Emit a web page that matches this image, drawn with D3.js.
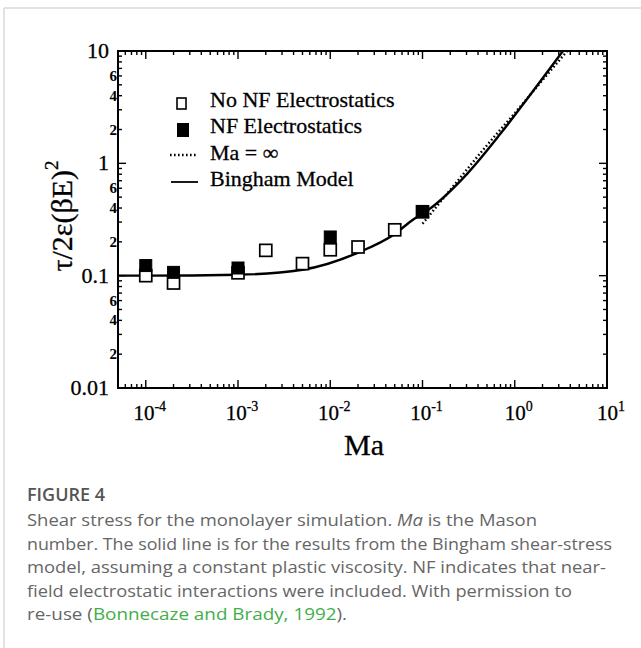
<!DOCTYPE html>
<html>
<head>
<meta charset="utf-8">
<script src="https://cdn.jsdelivr.net/npm/d3@7"></script>
<style>
  body { margin: 0; background: #fff; }
  svg { display: block; }
</style>
</head>
<body>
<svg id="chart" width="641" height="648"></svg>
<script>
// values (Ma, tau/2e(bE)^2)
var maOpen = [1e-4, 2e-4, 1e-3, 2e-3, 5e-3, 1e-2, 2e-2, 5e-2, 1e-1]
var tauOpen = [0.100, 0.086, 0.106, 0.168, 0.128, 0.170, 0.180, 0.256, 0.37]
var maFilled = [1e-4, 2e-4, 1e-3, 1e-2, 1e-1]
var tauFilled = [0.123, 0.107, 0.117, 0.221, 0.373]
var maBingham = [5e-5, 1e-4, 1e-3, 5e-3, 0.0195, 0.05, 0.0787, 0.113, 0.308, 0.705, 1.61, 3.33]
var tauBingham = [0.1, 0.1, 0.102, 0.113, 0.159, 0.235, 0.315, 0.38, 0.815, 1.85, 4.49, 10]
var maInf = [0.1, 0.2, 0.5, 1, 2, 3.7]
var tauInf = [0.29, 0.58, 1.45, 2.8, 5.5, 10]

var xTickLabels = ['-4', '-3', '-2', '-1', '0', '1']
var yMajorLabels = ['0.01', '0.1', '1', '10']
var yMinorLabeled = [2, 4, 6]
var legendNames = ['No NF Electrostatics', 'NF Electrostatics', 'Ma = \u221E', 'Bingham Model']

var svg = d3.select('#chart')
var serif = '"Liberation Serif", "DejaVu Serif", serif'

// outer card borders
svg.append('line').attr('x1', 4).attr('x2', 641).attr('y1', 8).attr('y2', 8)
  .attr('stroke', '#d8d8d8').attr('stroke-width', 1.5)
svg.append('line').attr('x1', 4).attr('x2', 4).attr('y1', 8).attr('y2', 648)
  .attr('stroke', '#d8d8d8').attr('stroke-width', 1.5)

var L = 118, R = 607, T = 51, B = 388
var x = d3.scaleLog().domain([5e-5, 10]).range([L, R])
var y = d3.scaleLog().domain([0.01, 10]).range([B, T])

function isMajor(v) {
  var l = Math.log10(v)
  return Math.abs(l - Math.round(l)) < 1e-6
}

var g = svg.append('g')

// ticks, pointing inwards on all four sides
x.ticks().forEach(function (v) {
  var len = isMajor(v) ? 8 : 4
  g.append('line').attr('x1', x(v)).attr('x2', x(v)).attr('y1', B).attr('y2', B - len)
    .attr('stroke', '#000').attr('stroke-width', 1.4)
  g.append('line').attr('x1', x(v)).attr('x2', x(v)).attr('y1', T).attr('y2', T + len)
    .attr('stroke', '#000').attr('stroke-width', 1.4)
})
y.ticks().forEach(function (v) {
  var len = isMajor(v) ? 8 : 4
  g.append('line').attr('y1', y(v)).attr('y2', y(v)).attr('x1', L).attr('x2', L + len)
    .attr('stroke', '#000').attr('stroke-width', 1.4)
  g.append('line').attr('y1', y(v)).attr('y2', y(v)).attr('x1', R).attr('x2', R - len)
    .attr('stroke', '#000').attr('stroke-width', 1.4)
})

g.append('rect').attr('x', L).attr('y', T).attr('width', R - L).attr('height', B - T)
  .attr('fill', 'none').attr('stroke', '#000').attr('stroke-width', 2)

// y labels
var majors = y.ticks().filter(isMajor)
majors.forEach(function (v, i) {
  g.append('text').attr('x', L - 9).attr('y', y(v) + 7)
    .attr('text-anchor', 'end').attr('font-family', serif).attr('font-size', 22)
    .attr('stroke', '#000').attr('stroke-width', 0.3)
    .text(yMajorLabels[i])
})
y.ticks().filter(function (v) { return !isMajor(v) }).forEach(function (v) {
  var m = Math.round(v / Math.pow(10, Math.floor(Math.log10(v) + 1e-9)))
  if (yMinorLabeled.indexOf(m) < 0) return
  g.append('text').attr('x', L - 1).attr('y', y(v) + 5)
    .attr('text-anchor', 'end').attr('font-family', serif).attr('font-size', 15)
    .attr('font-weight', 'bold').text(m)
})

// x labels with superscripts
x.ticks().filter(isMajor).forEach(function (v, i) {
  var t = g.append('text').attr('x', x(v) + 4).attr('y', 420)
    .attr('text-anchor', 'middle').attr('font-family', serif).attr('font-size', 21)
    .attr('stroke', '#000').attr('stroke-width', 0.3)
  t.append('tspan').text('10')
  t.append('tspan').attr('dy', -9).attr('font-size', 14).text(xTickLabels[i])
})

g.append('text').attr('x', 364).attr('y', 455).attr('text-anchor', 'middle')
  .attr('font-family', serif).attr('font-size', 30).attr('stroke', '#000').attr('stroke-width', 0.3)
  .text('Ma')

var yl = g.append('text').attr('transform', 'translate(72,216) rotate(-90)')
  .attr('text-anchor', 'middle').attr('font-family', serif).attr('font-size', 30)
  .attr('stroke', '#000').attr('stroke-width', 0.3)
yl.append('tspan').text('\u03C4/2\u03B5(\u03B2E)')
yl.append('tspan').attr('dy', -14).attr('font-size', 19).text('2')

// curves
var clip = svg.append('clipPath').attr('id', 'pc')
clip.append('rect').attr('x', L).attr('y', T).attr('width', R - L).attr('height', B - T)

var line = d3.line().x(function (d) { return x(d[0]) }).y(function (d) { return y(d[1]) })
  .curve(d3.curveMonotoneX)

var plot = svg.append('g').attr('clip-path', 'url(#pc)')
plot.append('path').datum(d3.zip(maInf, tauInf)).attr('d', line)
  .attr('fill', 'none').attr('stroke', '#000').attr('stroke-width', 2.4)
  .attr('stroke-dasharray', '1.6,2.4')
plot.append('path').datum(d3.zip(maBingham, tauBingham)).attr('d', line)
  .attr('fill', 'none').attr('stroke', '#000').attr('stroke-width', 2.4)

var s = 12
plot.selectAll('.open').data(d3.zip(maOpen, tauOpen)).enter().append('rect')
  .attr('x', function (d) { return x(d[0]) - s / 2 }).attr('y', function (d) { return y(d[1]) - s / 2 })
  .attr('width', s).attr('height', s).attr('fill', '#fff').attr('stroke', '#000').attr('stroke-width', 1.7)
plot.selectAll('.filled').data(d3.zip(maFilled, tauFilled)).enter().append('rect')
  .attr('x', function (d) { return x(d[0]) - s / 2 }).attr('y', function (d) { return y(d[1]) - s / 2 })
  .attr('width', s).attr('height', s).attr('fill', '#000').attr('stroke', '#000').attr('stroke-width', 1)

// legend
var leg = svg.append('g')
var ly = [107, 133, 160, 186]
leg.append('rect').attr('x', 177).attr('y', 98).attr('width', 9).attr('height', 11)
  .attr('fill', '#fff').attr('stroke', '#000').attr('stroke-width', 1.6)
leg.append('rect').attr('x', 177).attr('y', 123).attr('width', 12).attr('height', 14)
  .attr('fill', '#000')
leg.append('line').attr('x1', 170).attr('x2', 198).attr('y1', 155).attr('y2', 155)
  .attr('stroke', '#000').attr('stroke-width', 2.4).attr('stroke-dasharray', '1.6,2.4')
leg.append('line').attr('x1', 171).attr('x2', 198).attr('y1', 182).attr('y2', 182)
  .attr('stroke', '#000').attr('stroke-width', 1.8)
legendNames.forEach(function (n, i) {
  leg.append('text').attr('x', 210).attr('y', ly[i]).attr('font-family', serif)
    .attr('font-size', 22).attr('stroke', '#000').attr('stroke-width', 0.3).text(n)
})

// caption
var sans = '"Open Sans", Lato, sans-serif'
svg.append('text').attr('x', 27).attr('y', 501).attr('font-family', sans)
  .attr('font-size', 18).attr('font-weight', 600).attr('fill', '#555').text('FIGURE 4')

var cap = [
  [['Shear stress for the monolayer simulation. ', ''], ['Ma', 'i'], [' is the Mason', '']],
  [['number. The solid line is for the results from the Bingham shear-stress', '']],
  [['model, assuming a constant plastic viscosity. NF indicates that near-', '']],
  [['field electrostatic interactions were included. With permission to', '']],
  [['re-use (', ''], ['Bonnecaze and Brady, 1992', 'g'], [').', '']]
]
var capW = [510, 585, 579, 545, 320]
cap.forEach(function (parts, i) {
  var t = svg.append('text').attr('x', 27).attr('y', 526 + i * 23.5)
    .attr('font-family', sans).attr('font-size', 16.5).attr('fill', '#666')
    .attr('textLength', capW[i]).attr('lengthAdjust', 'spacingAndGlyphs')
  parts.forEach(function (p) {
    var ts = t.append('tspan').text(p[0])
    if (p[1] == 'i') ts.attr('font-style', 'italic')
    if (p[1] == 'g') ts.attr('fill', '#3fae49')
  })
})
</script>
</body>
</html>
